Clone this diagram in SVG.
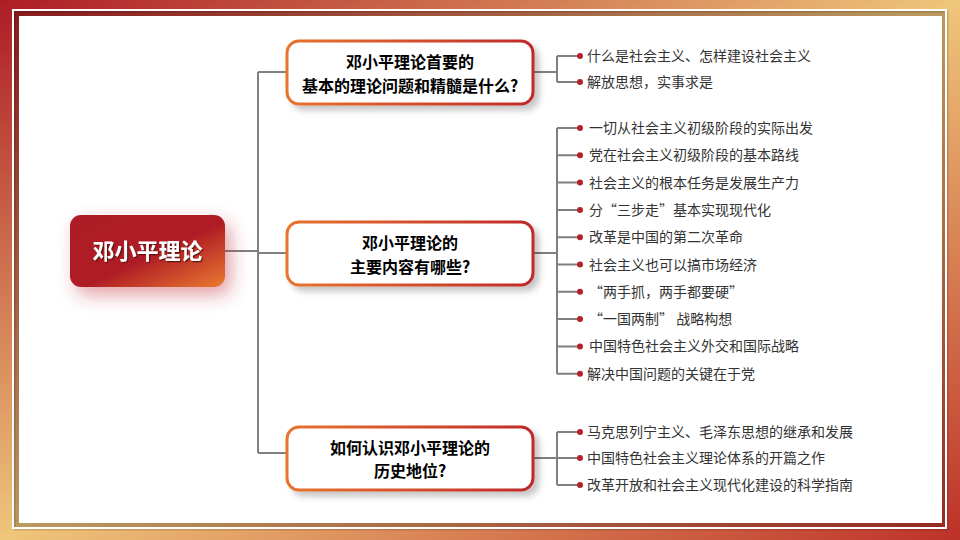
<svg xmlns="http://www.w3.org/2000/svg" width="960" height="540" viewBox="0 0 960 540">
<defs>
<linearGradient id="bg" x1="0" y1="0" x2="1" y2="1">
<stop offset="0" stop-color="#ad1c25"/>
<stop offset="0.5" stop-color="#efc67a"/>
<stop offset="1" stop-color="#bd3129"/>
</linearGradient>
<linearGradient id="core" x1="0" y1="0" x2="1" y2="1">
<stop offset="0" stop-color="#ad1c25"/>
<stop offset="0.55" stop-color="#b01e26"/>
<stop offset="1" stop-color="#ea7a30"/>
</linearGradient>
<linearGradient id="bord" x1="0" y1="0" x2="1" y2="0">
<stop offset="0" stop-color="#e8742f"/>
<stop offset="1" stop-color="#bf2a2a"/>
</linearGradient>
<filter id="glow" x="-40%" y="-60%" width="190%" height="230%">
<feGaussianBlur in="SourceAlpha" stdDeviation="9"/>
<feOffset dx="6" dy="8" result="b"/>
<feFlood flood-color="#c0303e" flood-opacity="0.45"/>
<feComposite in2="b" operator="in"/>
<feMerge><feMergeNode/><feMergeNode in="SourceGraphic"/></feMerge>
</filter>
<filter id="sh" x="-10%" y="-20%" width="125%" height="150%">
<feGaussianBlur in="SourceAlpha" stdDeviation="3"/>
<feOffset dx="5" dy="5" result="b"/>
<feFlood flood-color="#000" flood-opacity="0.22"/>
<feComposite in2="b" operator="in"/>
<feMerge><feMergeNode/><feMergeNode in="SourceGraphic"/></feMerge>
</filter>
<filter id="ts" x="-10%" y="-20%" width="130%" height="150%">
<feDropShadow dx="1.2" dy="1.2" stdDeviation="0.4" flood-color="#5a0a0a" flood-opacity="0.9"/>
</filter>
</defs>
<style>
.ln{fill:none;stroke:#808080;stroke-width:2}
.dot{fill:#b3212a}
.box{fill:#fff;stroke:url(#bord);stroke-width:3}
.ti{font-family:"Noto Sans CJK SC","Noto Sans",sans-serif;font-size:16px;font-weight:700;fill:#000;text-anchor:middle}
.it{font-family:"Noto Sans CJK SC","Noto Sans",sans-serif;font-size:14px;fill:#333}
</style>
<rect x="0" y="0" width="960" height="540" fill="url(#bg)"/>
<rect x="14" y="11" width="931" height="516" fill="#000" opacity="0.22"/>
<rect x="14.5" y="11.5" width="933" height="518" fill="none" stroke="#000" stroke-opacity="0.15" stroke-width="2"/>
<rect x="13" y="10" width="933" height="518" fill="none" stroke="#fff" stroke-width="2"/>
<rect x="19" y="16" width="923" height="507" fill="#fff"/>

<g id="connectors">
<path class="ln" d="M225 251H258M258 72V453M258 72H287M258 253H287M258 453H287"/>
<path class="ln" d="M533 72H557M557 56V82M557 56H580M557 82H580"/>
<path class="ln" d="M533 253H557M557 128V374M557 128H580M557 155.3H580M557 182.6H580M557 209.9H580M557 237.2H580M557 264.5H580M557 291.8H580M557 319.1H580M557 346.4H580M557 373.7H580"/>
<path class="ln" d="M533 458H557M557 432V485M557 432H580M557 458H580M557 485H580"/>
</g>

<g id="root">
<rect x="70" y="215" width="155" height="72" rx="11" fill="url(#core)" filter="url(#glow)"/>
<text x="147.5" y="259" font-family="'Noto Sans CJK SC','Noto Sans',sans-serif" font-size="22" font-weight="700" fill="#fff" text-anchor="middle" filter="url(#ts)">邓小平理论</text>
</g>

<g id="q1">
<rect class="box" x="287" y="41" width="246" height="63" rx="12" filter="url(#sh)"/>
<text class="ti" x="410" y="68">邓小平理论首要的</text>
<text class="ti" x="410" y="92">基本的理论问题和精髓是什么?</text>
</g>
<g id="q2">
<rect class="box" x="287" y="222" width="246" height="63" rx="12" filter="url(#sh)"/>
<text class="ti" x="410" y="249">邓小平理论的</text>
<text class="ti" x="410" y="273">主要内容有哪些?</text>
</g>
<g id="q3">
<rect class="box" x="287" y="427" width="246" height="63" rx="12" filter="url(#sh)"/>
<text class="ti" x="410" y="454">如何认识邓小平理论的</text>
<text class="ti" x="410" y="477">历史地位?</text>
</g>

<g id="a1">
<circle class="dot" cx="580" cy="56" r="3"/><text class="it" x="587" y="61">什么是社会主义、怎样建设社会主义</text>
<circle class="dot" cx="580" cy="82" r="3"/><text class="it" x="587" y="87">解放思想，实事求是</text>
</g>
<g id="a2">
<circle class="dot" cx="580" cy="128" r="3"/><text class="it" x="589" y="133">一切从社会主义初级阶段的实际出发</text>
<circle class="dot" cx="580" cy="155.3" r="3"/><text class="it" x="589" y="160.3">党在社会主义初级阶段的基本路线</text>
<circle class="dot" cx="580" cy="182.6" r="3"/><text class="it" x="589" y="187.6">社会主义的根本任务是发展生产力</text>
<circle class="dot" cx="580" cy="209.9" r="3"/><text class="it" x="589" y="214.9">分“三步走”基本实现现代化</text>
<circle class="dot" cx="580" cy="237.2" r="3"/><text class="it" x="589" y="242.2">改革是中国的第二次革命</text>
<circle class="dot" cx="580" cy="264.5" r="3"/><text class="it" x="589" y="269.5">社会主义也可以搞市场经济</text>
<circle class="dot" cx="580" cy="291.8" r="3"/><text class="it" x="589" y="296.8">“两手抓，两手都要硬”</text>
<circle class="dot" cx="580" cy="319.1" r="3"/><text class="it" x="589" y="324.1">“一国两制” 战略构想</text>
<circle class="dot" cx="580" cy="346.4" r="3"/><text class="it" x="589" y="351.4">中国特色社会主义外交和国际战略</text>
<circle class="dot" cx="580" cy="373.7" r="3"/><text class="it" x="587" y="378.7">解决中国问题的关键在于党</text>
</g>
<g id="a3">
<circle class="dot" cx="580" cy="432" r="3"/><text class="it" x="587" y="437">马克思列宁主义、毛泽东思想的继承和发展</text>
<circle class="dot" cx="580" cy="458" r="3"/><text class="it" x="587" y="463">中国特色社会主义理论体系的开篇之作</text>
<circle class="dot" cx="580" cy="485" r="3"/><text class="it" x="587" y="490">改革开放和社会主义现代化建设的科学指南</text>
</g>
</svg>
